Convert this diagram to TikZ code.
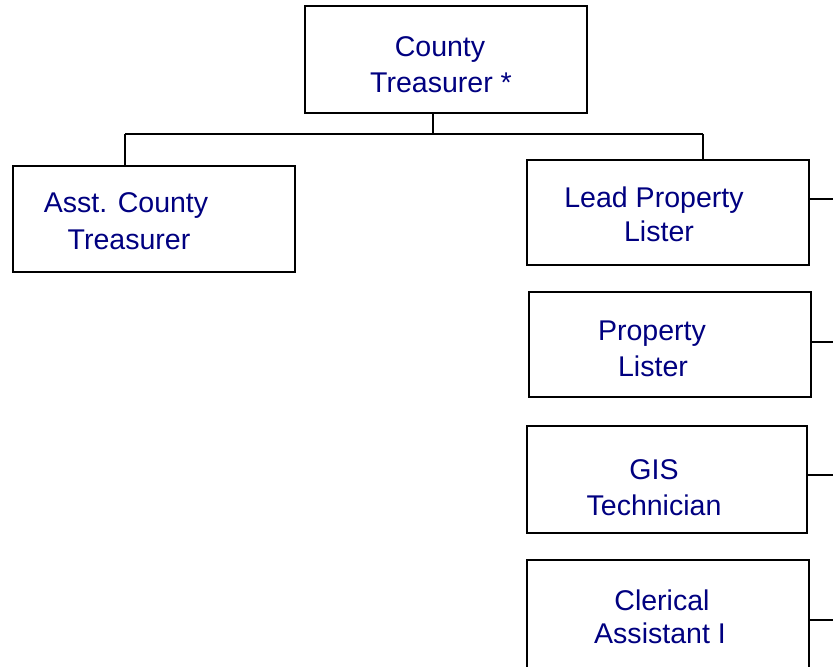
\documentclass[tikz,border=0pt]{standalone}
\usepackage{fontspec}
\setmainfont{Liberation Sans}
\definecolor{navytext}{RGB}{0,0,128}
\begin{document}
\begin{tikzpicture}[x=0.75pt,y=-0.75pt,
  box/.style={draw, line width=1.5pt, rectangle, inner sep=0pt, minimum width=211.5pt},
  lbl/.style={anchor=base, inner sep=0pt, text=navytext, font=\fontsize{21.4pt}{27pt}\selectfont},
  link/.style={line width=1.5pt}]
\useasboundingbox (0,0) rectangle (833,667);
% boxes
\node[box, minimum height=80.25pt] (ct) at (446,59.5) {};
\node[box, minimum height=79.5pt] (asst) at (154,219) {};
\node[box, minimum height=78.75pt] (lead) at (668,212.5) {};
\node[box, minimum height=78.75pt] (prop) at (670,344.5) {};
\node[box, minimum width=210pt, minimum height=80.25pt] (gis) at (667,479.5) {};
\node[box, minimum height=97.5pt] (cler) at (668,625) {};
% labels
\node[lbl] (ct1) at (440,57) {County};
\node[lbl] (ct2) at (441,93) {Treasurer *};
\node[lbl] (as1) at (126,213) {Asst. County};
\node[lbl] (as2) at (129,249) {Treasurer};
\node[lbl] (le1) at (654,208) {Lead Property};
\node[lbl] (le2) at (659,242) {Lister};
\node[lbl] (pr1) at (652,340) {Property};
\node[lbl] (pr2) at (653,376) {Lister};
\node[lbl] (gi1) at (654,479) {GIS};
\node[lbl] (gi2) at (654,515) {Technician};
\node[lbl] (cl1) at (662,610) {Clerical};
\node[lbl] (cl2) at (660,643) {Assistant I};
% connectors
\coordinate (j) at (433,134);
\coordinate (ja) at (125,134);
\coordinate (jl) at (703,134);
\draw[link] (j |- ct.south) -- (j);
\draw[link] (ja) -- (jl);
\draw[link] (ja) -- (ja |- asst.north);
\draw[link] (jl) -- (jl |- lead.north);
% stubs to the right edge
\coordinate (s1) at (833,199);
\coordinate (s2) at (833,342);
\coordinate (s3) at (833,475);
\coordinate (s4) at (833,620);
\draw[link] (s1 -| lead.east) -- (s1);
\draw[link] (s2 -| prop.east) -- (s2);
\draw[link] (s3 -| gis.east) -- (s3);
\draw[link] (s4 -| cler.east) -- (s4);
\end{tikzpicture}
\end{document}
